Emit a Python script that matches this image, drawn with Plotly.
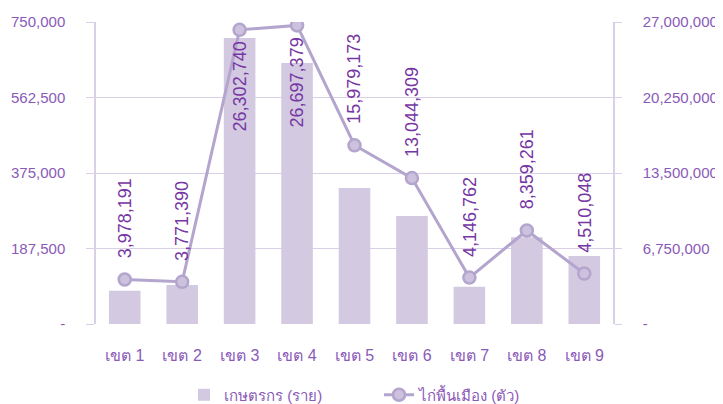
import plotly.graph_objects as go

categories = ["เขต 1", "เขต 2", "เขต 3", "เขต 4", "เขต 5", "เขต 6", "เขต 7", "เขต 8", "เขต 9"]
farmers = [82700, 96800, 710300, 648200, 337700, 268200, 92600, 215300, 168900]
chickens = [3978191, 3771390, 26302740, 26697379, 15979173, 13044309, 4146762, 8359261, 4510048]
chicken_labels = ["3,978,191", "3,771,390", "26,302,740", "26,697,379", "15,979,173",
                  "13,044,309", "4,146,762", "8,359,261", "4,510,048"]
label_inside = [False, False, True, True, False, False, False, False, False]

left_ticks = [0, 187500, 375000, 562500, 750000]
left_ticktext = ["-", "187,500", "375,000", "562,500", "750,000"]
right_ticks = [0, 6750000, 13500000, 20250000, 27000000]
right_ticktext = ["-", "6,750,000", "13,500,000", "20,250,000", "27,000,000"]

name_bar = "เกษตรกร (ราย)"
name_line = "ไก่พื้นเมือง (ตัว)"

BAR = "#d3c9e1"
LINE = "#b3a5cd"
MFILL = "#cdc2dd"
TXT = "#8a5ab8"
LBL = "#7636a3"
GRID = "#d9d0e8"
FONT = "Liberation Sans, Arial, Noto Sans, sans-serif"

fig = go.Figure()
fig.add_trace(go.Bar(x=categories, y=farmers, name=name_bar, marker_color=BAR,
                     marker_line_width=0, yaxis="y"))
fig.add_trace(go.Scatter(x=categories, y=chickens, name=name_line, yaxis="y2",
                         mode="lines+markers",
                         line=dict(color=LINE, width=3),
                         marker=dict(size=12, color=MFILL, line=dict(color=LINE, width=2.5))))

for c, v, t, inside in zip(categories, chickens, chicken_labels, label_inside):
    fig.add_annotation(x=c, y=v, xref="x", yref="y2", text=t, textangle=-90,
                       showarrow=False,
                       yanchor="top" if inside else "bottom",
                       yshift=-10 if inside else 19,
                       font=dict(family=FONT, size=18, color=LBL))

# page body has an 8px default margin, so the figure is sized to fit inside the window
fig.update_layout(
    width=715, height=396,
    margin=dict(l=88, r=110, t=14, b=80, autoexpand=False),
    paper_bgcolor="white", plot_bgcolor="white",
    font=dict(family=FONT, color=TXT),
    bargap=0.45,
    showlegend=True,
    legend=dict(orientation="h", x=(184 - 8) / 715, xanchor="left", xref="container",
                y=9 / 396, yanchor="middle", yref="container",
                entrywidth=150, entrywidthmode="pixels",
                font=dict(size=15, color=TXT), itemwidth=30, traceorder="normal"),
    xaxis=dict(range=[-0.5, len(categories) - 0.5], showgrid=False, showline=False,
               ticks="", automargin=False,
               ticklabelstandoff=20, tickfont=dict(size=16, color=TXT)),
    yaxis=dict(range=[0, 750000], tickvals=left_ticks, ticktext=left_ticktext,
               automargin=False,
               showgrid=True, gridcolor=GRID, gridwidth=1, zeroline=False,
               showline=True, linecolor=GRID, linewidth=1.5,
               ticks="outside", ticklen=8, tickcolor=GRID,
               ticklabelstandoff=18,
               tickfont=dict(size=15, color=TXT)),
    yaxis2=dict(range=[0, 27000000], tickvals=right_ticks, ticktext=right_ticktext,
                automargin=False,
                overlaying="y", side="right", showgrid=False, zeroline=False,
                showline=True, linecolor=GRID, linewidth=1.5,
                ticks="outside", ticklen=7, tickcolor=GRID,
                ticklabelstandoff=18,
                tickfont=dict(size=15, color=TXT)),
)

fig.write_html("out.html")
